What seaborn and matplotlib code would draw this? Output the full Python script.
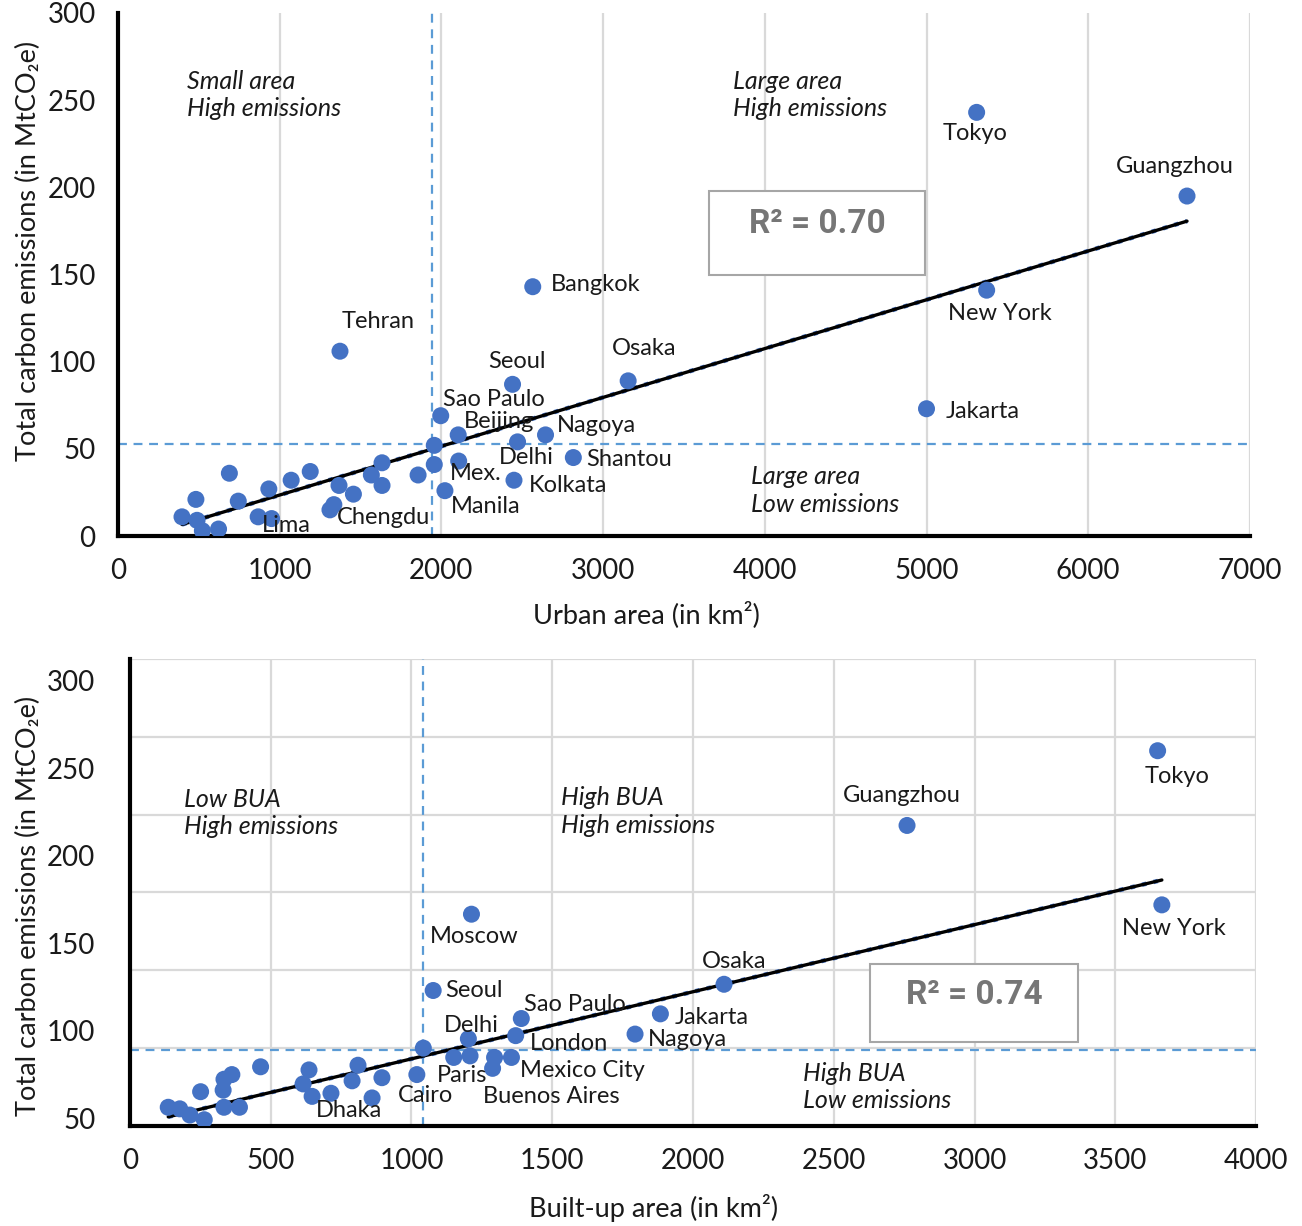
import numpy as np
import pandas as pd
import seaborn as sns
import matplotlib.pyplot as plt
from matplotlib.patches import Rectangle

# ---- Top panel data: urban area (km2) vs total emissions (MtCO2e)
urban_cities = ["Tokyo", "Guangzhou", "New York", "Jakarta", "Bangkok", "Osaka",
                "Tehran", "Seoul", "Sao Paulo", "Beijing", "Nagoya", "Delhi",
                "Shantou", "Mex.", "Kolkata", "Manila", "Chengdu", "Lima"]
urban_area = [5310, 6611, 5372, 5000, 2565, 3155,
              1373, 2440, 1996, 2104, 2644, 2471,
              2816, 2107, 2449, 2022, 1335, 950]
urban_emis = [243, 195, 141, 73, 143, 89,
              106, 87, 69, 58, 58, 54,
              45, 43, 32, 26, 18, 10]
# unlabelled cities
urban_other_area = [1956, 1956, 1856, 1633, 1633, 1567, 1456, 1367, 1311, 1189,
                    1071, 933, 867, 744, 689, 482, 396, 489, 522, 622]
urban_other_emis = [52, 41, 35, 42, 29, 35, 24, 29, 15, 37,
                    32, 27, 11, 20, 36, 21, 11, 9, 3, 4]

# ---- Bottom panel data: built-up area (km2) vs total emissions (MtCO2e)
bua_cities = ["Tokyo", "Guangzhou", "New York", "Moscow", "Osaka", "Seoul",
              "Jakarta", "Sao Paulo", "Nagoya", "London", "Delhi", "Paris",
              "Mexico City", "Buenos Aires", "Cairo", "Dhaka"]
bua_area = [3650, 2760, 3665, 1213, 2110, 1077,
            1884, 1390, 1794, 1370, 1202, 1150,
            1355, 1288, 1019, 860]
bua_emis = [241, 193, 142, 136, 91, 87,
            72, 69, 59, 58, 56, 44,
            44, 37, 33, 18]
bua_other_area = [1042, 1208, 1295, 895, 810, 789, 714, 636, 615, 647, 464,
                  362, 334, 331, 334, 389, 251, 136, 177, 213, 264]
bua_other_emis = [50, 45, 44, 31, 39, 29, 21, 36, 27, 19, 38,
                  33, 30, 23, 12, 12, 22, 12, 11, 7, 4]

# trendline (slope, intercept) as printed in the original figure
urban_fit = (0.0280, -4.5)
bua_fit = (0.0431, 0.0)
urban_r2 = "R² = 0.70"
bua_r2 = "R² = 0.74"

urban_xticks = [0, 1000, 2000, 3000, 4000, 5000, 6000, 7000]
bua_xticks = [0, 500, 1000, 1500, 2000, 2500, 3000, 3500, 4000]
emis_grid = [0, 50, 100, 150, 200, 250, 300]
bua_ylabels = ["50", "100", "150", "200", "250", "300"]

# label offsets in pixels (dx, dy, ha)
urban_offsets = {
    "Tokyo": (-2, -21, "center"), "Guangzhou": (-12, 30, "center"),
    "New York": (13, -23, "center"), "Jakarta": (19, -3, "left"),
    "Bangkok": (18, 2, "left"), "Osaka": (16, 32, "center"),
    "Tehran": (38, 30, "center"), "Seoul": (4, 23, "center"),
    "Sao Paulo": (53, 16, "center"), "Beijing": (41, 13, "center"),
    "Nagoya": (11, 9, "left"), "Delhi": (9, -16, "center"),
    "Shantou": (13, -2, "left"), "Mex.": (17, -12, "center"),
    "Kolkata": (15, -5, "left"), "Manila": (41, -16, "center"),
    "Chengdu": (50, -13, "center"), "Lima": (15, -7, "center"),
}
bua_offsets = {
    "Tokyo": (19, -26, "center"), "Guangzhou": (-5, 30, "center"),
    "New York": (12, -24, "center"), "Moscow": (3, -22, "center"),
    "Osaka": (10, 23, "center"), "Seoul": (12, 0, "left"),
    "Jakarta": (14, -4, "left"), "Sao Paulo": (54, 14, "center"),
    "Nagoya": (13, -5, "left"), "London": (14, -8, "left"),
    "Delhi": (3, 13, "center"), "Paris": (8, -18, "center"),
    "Mexico City": (9, -13, "left"), "Buenos Aires": (59, -28, "center"),
    "Cairo": (9, -21, "center"), "Dhaka": (-23, -13, "center"),
}

sns.set_theme(style="white")
plt.rcParams["font.family"] = ["Lato", "DejaVu Sans"]

BLUE = "#4472C4"
DASH = "#5B9BD5"
GRID = "#D9D9D9"
INK = "#1a1a1a"


def draw_panel(ax, cities, xs, ys, ox, oy, offsets, xlabel, xticks, xmax,
               vline, hline, quads, fit, r2, box):
    df_lab = pd.DataFrame({"area": xs, "emis": ys, "city": cities})
    df_all = pd.DataFrame({"area": list(xs) + list(ox), "emis": list(ys) + list(oy)})

    ax.set_xlim(0, xmax)
    ax.set_ylim(0, 300)
    ax.set_xticks(xticks)
    ax.set_yticks(emis_grid, minor=True)
    ax.grid(True, which="minor", axis="y", color=GRID, lw=1.6)
    ax.grid(True, which="major", axis="x", color=GRID, lw=1.6)
    ax.set_axisbelow(True)

    # thresholds
    ax.axvline(vline, color=DASH, ls=(0, (4, 3)), lw=1.6, zorder=2)
    ax.axhline(hline, color=DASH, ls=(0, (4, 3)), lw=1.6, zorder=2)

    # linear trend over the data range (blue dotted under black)
    line_x = np.array([df_all["area"].min(), df_all["area"].max()])
    trend = pd.DataFrame({"area": line_x, "emis": fit[0] * line_x + fit[1]})
    sns.lineplot(data=trend, x="area", y="emis", ax=ax, color=BLUE, lw=3.2,
                 ls=":", zorder=3)
    sns.lineplot(data=trend, x="area", y="emis", ax=ax, color="black", lw=2.4,
                 zorder=3)

    sns.scatterplot(data=df_all, x="area", y="emis", ax=ax, color=BLUE, s=150,
                    edgecolor="none", zorder=4, legend=False)

    for _, r in df_lab.iterrows():
        dx, dy, ha = offsets[r["city"]]
        ax.annotate(r["city"], (r["area"], r["emis"]), xytext=(dx * 0.72, dy * 0.72),
                    textcoords="offset points", ha=ha, va="center",
                    fontsize=17, color=INK, zorder=5)

    for (qx, qy, qtxt) in quads:
        ax.text(qx, qy, qtxt, fontsize=18, fontstyle="italic", color=INK,
                ha="left", va="center", linespacing=1.25, zorder=5)

    # R² box
    bx0, bx1, by0, by1 = box
    ax.add_patch(Rectangle((bx0, by0), bx1 - bx0, by1 - by0, facecolor="white",
                           edgecolor="#A6A6A6", lw=1.5, zorder=5))
    ax.text((bx0 + bx1) / 2, by0 + (by1 - by0) * 0.6, r2, ha="center", va="center",
            fontsize=24, fontweight="bold", color="#767676",
            family=["Roboto", "DejaVu Sans"], zorder=6)

    for s in ["top", "right"]:
        ax.spines[s].set_visible(False)
    for s in ["left", "bottom"]:
        ax.spines[s].set_color("black")
        ax.spines[s].set_linewidth(3)

    ax.tick_params(axis="both", which="both", length=0, labelsize=20, colors=INK)
    ax.set_xlabel(xlabel, fontsize=19.5, color=INK)
    ax.set_ylabel("Total carbon emissions (in MtCO\u2082e)", fontsize=19.5, color=INK)


fig = plt.figure(figsize=(13.02, 12.26), dpi=100)
ax1 = fig.add_axes([0.0906, 0.5628, 0.8694, 0.4266])
ax2 = fig.add_axes([0.0998, 0.0816, 0.8650, 0.3810])

draw_panel(ax1, urban_cities, urban_area, urban_emis, urban_other_area, urban_other_emis,
           urban_offsets, "Urban area (in km\u00b2)", urban_xticks, 7000,
           1940, 53,
           [(427, 253, "Small area\nHigh emissions"),
            (3803, 253, "Large area\nHigh emissions"),
            (3915, 26, "Large area\nLow emissions")],
           urban_fit, urban_r2, (3655, 4991, 150, 198))
ax1.set_yticks(emis_grid)
ax1.tick_params(axis="y", pad=16)
ax1.tick_params(axis="x", pad=16)
ax1.yaxis.set_label_coords(-0.068, 0.545)
ax1.xaxis.set_label_coords(0.467, -0.125)

draw_panel(ax2, bua_cities, bua_area, bua_emis, bua_other_area, bua_other_emis,
           bua_offsets, "Built-up area (in km\u00b2)", bua_xticks, 4000,
           1040, 49,
           [(193, 201, "Low BUA\nHigh emissions"),
            (1532, 202, "High BUA\nHigh emissions"),
            (2389, 25, "High BUA\nLow emissions")],
           bua_fit, bua_r2, (2629, 3368, 54, 104))
# tick labels sit where the original picture shows them
ax2.set_yticks(np.linspace(5, 286, len(bua_ylabels)))
ax2.set_yticklabels(bua_ylabels)
ax2.tick_params(axis="y", pad=25)
ax2.tick_params(axis="x", pad=16)
ax2.yaxis.set_label_coords(-0.079, 0.47)
ax2.xaxis.set_label_coords(0.465, -0.145)

fig.savefig("out.png", dpi=100, facecolor="white")
